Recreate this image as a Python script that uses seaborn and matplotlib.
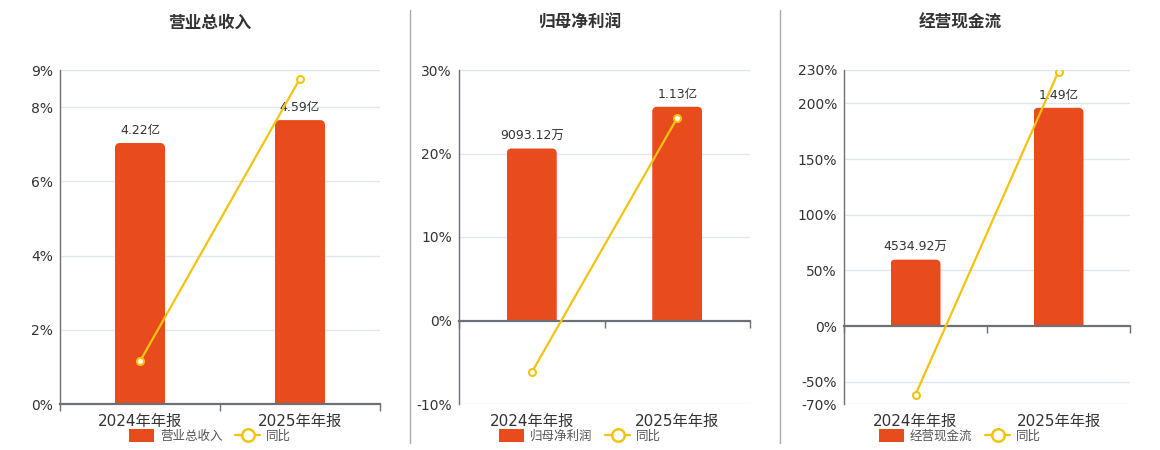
import numpy as np
import pandas as pd
import matplotlib
matplotlib.use("Agg")
import matplotlib.pyplot as plt
from matplotlib.patches import FancyBboxPatch, Rectangle, Patch
from matplotlib.lines import Line2D
import seaborn as sns

periods = ["2024年年报", "2025年年报"]

titles = ["营业总收入", "归母净利润", "经营现金流"]

# bar values in 亿元 and their labels
revenue = [4.22, 4.59]
net_profit = [0.909312, 1.13]
cash_flow = [0.453492, 1.49]
bar_labels = [["4.22亿", "4.59亿"], ["9093.12万", "1.13亿"], ["4534.92万", "1.49亿"]]

# year-over-year growth, %
revenue_yoy = [1.15, 8.77]
net_profit_yoy = [-6.2, 24.27]
cash_flow_yoy = [-61.6, 228.6]

pct_ticks = [[0, 2, 4, 6, 8, 9], [-10, 0, 10, 20, 30], [-70, -50, 0, 50, 100, 150, 200, 230]]
pct_limits = [(0, 9), (-10, 30), (-70, 230)]
bar_limits = [(0, 5.40), (-0.4414, 1.3243), (-0.532, 1.748)]

BAR = "#E84C1C"
LINE = "#F2C40F"
GRID = "#E0E6F1"
AXIS = "#6E7079"
TEXT = "#333333"

sns.set_theme(style="white")
plt.rcParams["font.family"] = ["DejaVu Sans", "Noto Sans CJK SC"]

W, H = 1160, 450
fig = plt.figure(figsize=(W / 100, H / 100), dpi=100)

# pixel boxes: left, right, top, bottom
boxes = [(60, 380, 70, 404), (459, 750, 70, 404), (844, 1130, 70, 404)]
centers = [210, 580, 960]

bars_all = [revenue, net_profit, cash_flow]
yoy_all = [revenue_yoy, net_profit_yoy, cash_flow_yoy]

for i in range(3):
    l, r, t, b = boxes[i]
    ax = fig.add_axes([l / W, 1 - b / H, (r - l) / W, (b - t) / H])
    axb = ax.twinx()
    ax.set_zorder(axb.get_zorder() + 1)
    ax.patch.set_visible(False)

    df = pd.DataFrame({"period": periods, "value": bars_all[i], "yoy": yoy_all[i]})
    band = (r - l) / 2
    sns.barplot(data=df, x="period", y="value", ax=axb, color=BAR,
                width=50 / band, saturation=1, edgecolor="none")
    axb.set_xlim(-0.5, 1.5)
    axb.set_ylim(*bar_limits[i])

    # rounded top corners
    py = (b - t) / (bar_limits[i][1] - bar_limits[i][0])
    rx = 5 / band
    for p in list(axb.patches):
        x0, w, h = p.get_x(), p.get_width(), p.get_height()
        ry = 5 / py
        fb = FancyBboxPatch((x0, -ry), w, h + ry,
                            boxstyle=f"round,pad=0,rounding_size={rx}",
                            mutation_aspect=band / py, facecolor=BAR,
                            edgecolor="none", zorder=2)
        axb.add_patch(fb)
        fb.set_clip_path(Rectangle((x0, 0), w, h + 1, transform=axb.transData))
        p.remove()
        axb.text(x0 + w / 2, h + 6 / py, bar_labels[i][int(round(x0 + w / 2))],
                 ha="center", va="bottom", fontsize=9, color=TEXT)
    axb.set_yticks([])
    axb.set_ylabel("")
    axb.set_xlabel("")
    for s in axb.spines.values():
        s.set_visible(False)

    sns.lineplot(data=df, x="period", y="yoy", ax=ax, color=LINE, linewidth=1.6,
                 marker="o", markersize=5, markerfacecolor="white",
                 markeredgecolor=LINE, markeredgewidth=1.5, zorder=5)
    ax.set_xlim(-0.5, 1.5)
    ax.set_ylim(*pct_limits[i])
    ax.set_yticks(pct_ticks[i])
    ax.set_yticklabels([f"{v}%" for v in pct_ticks[i]])
    ax.set_xlabel("")
    ax.set_ylabel("")
    span = (bar_limits[i][1] - bar_limits[i][0]) / (pct_limits[i][1] - pct_limits[i][0])
    for v in pct_ticks[i]:
        if v != 0:
            axb.axhline(v * span, color=GRID, linewidth=1, zorder=0)

    # category axis sits on the zero line, tick marks between categories
    ax.spines["bottom"].set_position(("data", 0))
    ax.spines["bottom"].set_color(AXIS)
    ax.spines["bottom"].set_linewidth(1.6)
    ax.spines["left"].set_color(AXIS)
    ax.spines["left"].set_linewidth(1)
    ax.spines["top"].set_visible(False)
    ax.spines["right"].set_visible(False)
    ax.set_xticks([0, 1])
    ax.set_xticklabels([])
    ax.set_xticks([-0.5, 0.5, 1.5], minor=True)
    ax.tick_params(axis="x", which="major", length=0)
    ax.tick_params(axis="x", which="minor", bottom=True, length=5, color=AXIS, width=1)
    ax.tick_params(axis="y", length=0, labelsize=10, colors=TEXT, pad=5)
    for k, name in enumerate(periods):
        ax.annotate(name, xy=(k, pct_limits[i][0]), xytext=(0, -7),
                    textcoords="offset points", ha="center", va="top",
                    fontsize=11, color=TEXT, annotation_clip=False)

    fig.text(centers[i] / W, 1 - 23 / H, titles[i], ha="center", va="center",
             fontsize=12, fontweight="bold", color=TEXT)

    handles = [Patch(facecolor=BAR, edgecolor="none"),
               Line2D([0], [0], color=LINE, linewidth=1.6, marker="o", markersize=9,
                      markerfacecolor="white", markeredgecolor=LINE, markeredgewidth=1.8)]
    fig.legend(handles, [titles[i], "同比"], loc="center",
               bbox_to_anchor=(centers[i] / W, 1 - 436 / H), ncol=2, frameon=False,
               fontsize=9, handlelength=2.0, handleheight=1.2, columnspacing=1.0,
               handletextpad=0.5, labelcolor="#555555")

for xs in (410, 780):
    fig.add_artist(Line2D([xs / W, xs / W], [1 - 10 / H, 1 - 443 / H],
                          color="#AAAAAA", linewidth=1, transform=fig.transFigure))

fig.savefig("out.png", dpi=100)
